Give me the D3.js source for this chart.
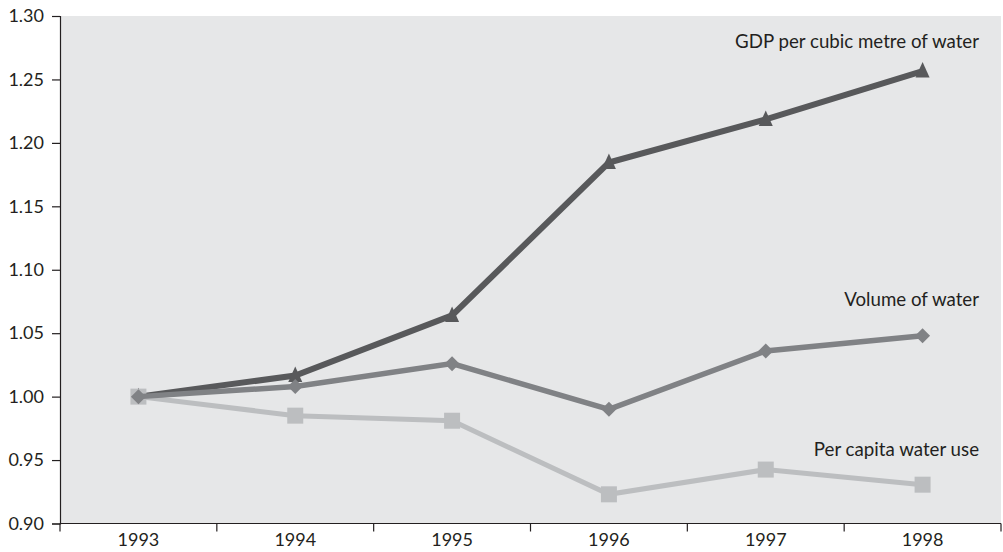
<!DOCTYPE html>
<html>
<head>
<meta charset="utf-8">
<script src="https://cdn.jsdelivr.net/npm/d3@7"></script>
<style>
  html, body { margin: 0; padding: 0; background: #ffffff; }
  svg { display: block; }
  text { font-family: Lato, "Open Sans", sans-serif; fill: #231f20; }
</style>
</head>
<body>
<svg id="chart" width="1003" height="552"></svg>
<script>
const years = ["1993", "1994", "1995", "1996", "1997", "1998"];
const gdpPerWater = [1.000, 1.0166, 1.064, 1.1845, 1.2185, 1.2566];
const volumeOfWater = [1.000, 1.008, 1.026, 0.990, 1.036, 1.048];
const perCapitaUse = [1.000, 0.985, 0.981, 0.923, 0.9425, 0.9306];
const yTicks = [0.90, 0.95, 1.00, 1.05, 1.10, 1.15, 1.20, 1.25, 1.30];
const seriesNames = ["GDP per cubic metre of water", "Volume of water", "Per capita water use"];

const svg = d3.select("#chart");
const plotLeft = 60, plotRight = 1001, plotTop = 16, plotBottom = 523.5;

const x = d3.scaleBand().domain(years).range([plotLeft, plotRight]).padding(0);
const y = d3.scaleLinear().domain([0.90, 1.30]).range([plotBottom, plotTop]);

// plot background
svg.append("rect")
  .attr("x", plotLeft).attr("y", plotTop)
  .attr("width", plotRight - plotLeft).attr("height", plotBottom - plotTop)
  .attr("fill", "#e6e7e8");

// axes
const yAxis = d3.axisLeft(y).tickValues(yTicks).tickFormat(d3.format(".2f")).tickSize(8).tickPadding(8);
const gy = svg.append("g").attr("transform", `translate(${plotLeft},0)`).call(yAxis);
gy.select(".domain").attr("stroke", "#231f20").attr("stroke-width", 1.2);
gy.selectAll(".tick line").attr("stroke", "#231f20").attr("stroke-width", 1.2);
gy.selectAll(".tick text").style("font-size", "18px").attr("fill", "#231f20").style("font-family", "Lato, sans-serif");

const xAxis = d3.axisBottom(x).tickSize(0).tickPadding(10);
const gx = svg.append("g").attr("transform", `translate(0,${plotBottom})`).call(xAxis);
gx.select(".domain").remove();
gx.selectAll(".tick text").style("font-size", "18px").attr("fill", "#231f20").style("font-family", "Lato, sans-serif");
svg.append("line").attr("x1", plotLeft).attr("x2", plotRight).attr("y1", plotBottom).attr("y2", plotBottom)
  .attr("stroke", "#231f20").attr("stroke-width", 1.2);
// boundary ticks between categories
const bounds = years.map(d => x(d)).concat([x(years[years.length - 1]) + x.bandwidth()]);
svg.append("g").selectAll("line").data(bounds).join("line")
  .attr("x1", d => d).attr("x2", d => d)
  .attr("y1", plotBottom).attr("y2", plotBottom + 8)
  .attr("stroke", "#231f20").attr("stroke-width", 1.2);

const cx = d => x(d) + x.bandwidth() / 2;
const line = vals => d3.line().x((v, i) => cx(years[i])).y(v => y(v))(vals);

// GDP series
svg.append("path").attr("d", line(gdpPerWater)).attr("fill", "none")
  .attr("stroke", "#58595b").attr("stroke-width", 6).attr("stroke-linejoin", "miter");
svg.append("g").selectAll("path").data(gdpPerWater).join("path")
  .attr("d", (v, i) => { const px = cx(years[i]), py = y(v); return `M${px},${py - 9}L${px + 7},${py + 6.5}L${px - 7},${py + 6.5}Z`; })
  .attr("fill", "#58595b");

// Per capita series
svg.append("path").attr("d", line(perCapitaUse)).attr("fill", "none")
  .attr("stroke", "#bcbec0").attr("stroke-width", 5);
svg.append("g").selectAll("rect").data(perCapitaUse).join("rect")
  .attr("x", (v, i) => cx(years[i]) - 8).attr("y", v => y(v) - 8)
  .attr("width", 16).attr("height", 16).attr("fill", "#bcbec0");

// Volume series
svg.append("path").attr("d", line(volumeOfWater)).attr("fill", "none")
  .attr("stroke", "#808285").attr("stroke-width", 5.5);
svg.append("g").selectAll("path").data(volumeOfWater).join("path")
  .attr("d", (v, i) => { const px = cx(years[i]), py = y(v); return `M${px},${py - 7.5}L${px + 7.5},${py}L${px},${py + 7.5}L${px - 7.5},${py}Z`; })
  .attr("fill", "#808285");

// series labels
const labelPos = [[979, 48], [979, 306], [979, 456]];
svg.append("g").selectAll("text").data(seriesNames).join("text")
  .attr("x", (d, i) => labelPos[i][0]).attr("y", (d, i) => labelPos[i][1])
  .attr("text-anchor", "end").style("font-size", "18.7px")
  .text(d => d);
</script>
</body>
</html>
